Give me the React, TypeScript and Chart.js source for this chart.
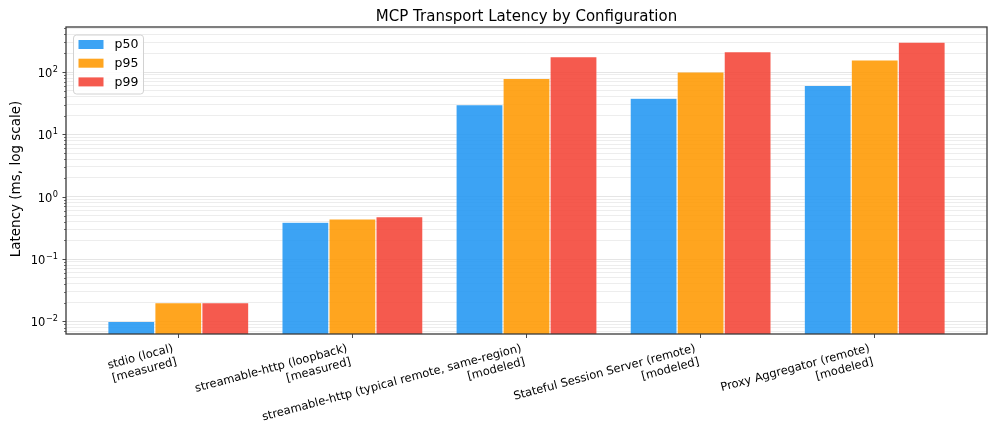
import React, { useEffect, useRef } from "react";
import { Chart, registerables } from "chart.js";

Chart.register(...registerables);

const CATEGORIES: string[][] = [
  ["stdio (local)", "[measured]"],
  ["streamable-http (loopback)", "[measured]"],
  ["streamable-http (typical remote, same-region)", "[modeled]"],
  ["Stateful Session Server (remote)", "[modeled]"],
  ["Proxy Aggregator (remote)", "[modeled]"],
];

const SERIES_NAMES = ["p50", "p95", "p99"];
const P50 = [0.01, 0.39, 30, 38, 61];
const P95 = [0.02, 0.44, 79, 100, 157];
const P99 = [0.02, 0.48, 176, 212, 302];
const SERIES_VALUES = [P50, P95, P99];
const SERIES_COLORS = [
  "rgba(33,150,243,0.88)",
  "rgba(255,152,0,0.88)",
  "rgba(244,67,54,0.88)",
];

const DECADES = [-3, -2, -1, 0, 1, 2];
const DECADE_EXPONENTS = ["−3", "−2", "−1", "0", "1", "2"];

const Y_MIN = 0.0063;
const Y_MAX = 527;
const X_MIN = -0.645;
const X_MAX = 4.645;

const TITLE = "MCP Transport Latency by Configuration";
const Y_TITLE = "Latency (ms, log scale)";
const FONT = "'DejaVu Sans', 'Liberation Sans', sans-serif";
const X_FONT_SIZE = 11.5;
const X_ROT = (15 * Math.PI) / 180;

function majorIndex(v: number): number {
  for (let i = 0; i < DECADES.length; i++) {
    const p = Math.pow(10, DECADES[i]);
    if (Math.abs(v - p) < p * 1e-6) return i;
  }
  return -1;
}

function buildLogTicks(): { value: number }[] {
  const out: { value: number }[] = [];
  for (const e of DECADES) {
    for (let m = 1; m <= 9; m++) {
      const v = Number((m * Math.pow(10, e)).toPrecision(12));
      if (v >= Y_MIN && v <= Y_MAX) out.push({ value: v });
    }
  }
  return out;
}

const decorPlugin = {
  id: "decor",
  afterDatasetsDraw(chart: any) {
    const { ctx, chartArea } = chart;
    const y = chart.scales.y;
    const x = chart.scales.x;
    ctx.save();
    ctx.strokeStyle = "#333";
    for (const t of y.ticks) {
      const py = Math.round(y.getPixelForValue(t.value)) + 0.5;
      const k = majorIndex(t.value);
      const major = k >= 0;
      const len = major ? 3.5 : 2;
      ctx.lineWidth = major ? 0.9 : 0.7;
      ctx.beginPath();
      ctx.moveTo(chartArea.left - len, py);
      ctx.lineTo(chartArea.left, py);
      ctx.stroke();
      if (major) {
        const exp = DECADE_EXPONENTS[k];
        ctx.fillStyle = "#000";
        ctx.textBaseline = "alphabetic";
        ctx.textAlign = "left";
        ctx.font = `8.2px ${FONT}`;
        const ew = ctx.measureText(exp).width;
        ctx.font = `11.5px ${FONT}`;
        const bw = ctx.measureText("10").width;
        const right = chartArea.left - 8;
        const x0 = right - ew - bw - 0.5;
        const base = py + 4.5;
        ctx.fillText("10", x0, base);
        ctx.font = `8.2px ${FONT}`;
        ctx.fillText(exp, x0 + bw + 0.5, base - 5);
      }
    }
    // x category labels: rotated 15deg, right-aligned block, matplotlib-style bbox anchoring
    ctx.font = `${X_FONT_SIZE}px ${FONT}`;
    ctx.fillStyle = "#000";
    const lh = X_FONT_SIZE * 1.2;
    CATEGORIES.forEach((lines, i) => {
      const tx = x.getPixelForValue(i);
      const H = lines.length * lh;
      const top = chartArea.bottom + 7.2;
      const bx = tx;
      const by = top + H * Math.cos(X_ROT);
      ctx.save();
      ctx.translate(bx, by);
      ctx.rotate(-X_ROT);
      ctx.textAlign = "right";
      ctx.textBaseline = "middle";
      lines.forEach((ln, j) => {
        ctx.fillText(ln, 0, -H + (j + 0.5) * lh + 0.5);
      });
      ctx.restore();
    });
    ctx.strokeStyle = "#3a3a3a";
    ctx.lineWidth = 1.3;
    ctx.strokeRect(
      chartArea.left,
      chartArea.top,
      chartArea.right - chartArea.left,
      chartArea.bottom - chartArea.top
    );
    ctx.restore();
  },
  afterDraw(chart: any) {
    const { ctx, chartArea } = chart;
    ctx.save();
    ctx.fillStyle = "#000";
    ctx.font = `15px ${FONT}`;
    ctx.textAlign = "center";
    ctx.textBaseline = "alphabetic";
    ctx.fillText(TITLE, (chartArea.left + chartArea.right) / 2, 21);
    ctx.save();
    ctx.translate(16.5, (chartArea.top + chartArea.bottom) / 2 - 1.5);
    ctx.rotate(-Math.PI / 2);
    ctx.font = `13.5px ${FONT}`;
    ctx.textBaseline = "middle";
    ctx.fillText(Y_TITLE, 0, 0);
    ctx.restore();
    const lx = chartArea.left + 7.5;
    const ly = chartArea.top + 8;
    const lw = 70;
    const lhh = 59;
    const r = 3;
    ctx.beginPath();
    ctx.moveTo(lx + r, ly);
    ctx.lineTo(lx + lw - r, ly);
    ctx.arcTo(lx + lw, ly, lx + lw, ly + r, r);
    ctx.lineTo(lx + lw, ly + lhh - r);
    ctx.arcTo(lx + lw, ly + lhh, lx + lw - r, ly + lhh, r);
    ctx.lineTo(lx + r, ly + lhh);
    ctx.arcTo(lx, ly + lhh, lx, ly + lhh - r, r);
    ctx.lineTo(lx, ly + r);
    ctx.arcTo(lx, ly, lx + r, ly, r);
    ctx.closePath();
    ctx.fillStyle = "rgba(255,255,255,0.85)";
    ctx.fill();
    ctx.strokeStyle = "#d2d2d2";
    ctx.lineWidth = 1;
    ctx.stroke();
    chart.data.datasets.forEach((ds: any, i: number) => {
      const cy = ly + 9.5 + i * 18.7;
      ctx.fillStyle = ds.backgroundColor;
      ctx.fillRect(lx + 5, cy - 4.5, 25, 9);
      ctx.fillStyle = "#000";
      ctx.font = `12.5px ${FONT}`;
      ctx.textAlign = "left";
      ctx.textBaseline = "middle";
      ctx.fillText(ds.label, lx + 41, cy + 0.5);
    });
    ctx.restore();
  },
};

export default function App() {
  const canvasRef = useRef<HTMLCanvasElement | null>(null);

  useEffect(() => {
    document.body.style.margin = "0";
    const canvas = canvasRef.current;
    if (!canvas) return;
    const chart = new Chart(canvas, {
      type: "bar",
      data: {
        datasets: SERIES_VALUES.map((vals, si) => ({
          label: SERIES_NAMES[si],
          data: vals.map((v, i) => ({ x: i, y: v })),
          backgroundColor: SERIES_COLORS[si],
          borderColor: "rgba(255,255,255,0.35)",
          borderWidth: 0.6,
          categoryPercentage: 0.81,
          barPercentage: 1.0,
        })),
      },
      options: {
        animation: false,
        responsive: false,
        maintainAspectRatio: false,
        devicePixelRatio: 1,
        layout: { padding: { top: 27, right: 9, left: 0, bottom: 0 } },
        plugins: {
          legend: { display: false },
          title: { display: false },
          tooltip: { enabled: false },
        },
        scales: {
          x: {
            type: "linear",
            offset: false,
            min: X_MIN,
            max: X_MAX,
            afterBuildTicks: (s: any) => {
              s.ticks = CATEGORIES.map((_, i) => ({ value: i }));
            },
            afterFit: (s: any) => {
              s.height = 111;
            },
            ticks: {
              autoSkip: false,
              maxRotation: 0,
              minRotation: 0,
              padding: 2,
              color: "#000",
              font: { family: FONT, size: X_FONT_SIZE },
              callback: () => "",
            },
            grid: {
              offset: false,
              drawOnChartArea: false,
              drawTicks: true,
              tickLength: 4,
              tickColor: "#333",
              tickWidth: 0.9,
            },
            border: { display: false },
          },
          y: {
            type: "logarithmic",
            min: Y_MIN,
            max: Y_MAX,
            afterBuildTicks: (s: any) => {
              s.ticks = buildLogTicks();
            },
            afterFit: (s: any) => {
              s.width = 66;
            },
            ticks: {
              autoSkip: false,
              padding: 4,
              color: "#000",
              font: { family: FONT, size: 11.5 },
              callback: () => "",
            },
            grid: {
              drawTicks: true,
              tickLength: 3.5,
              tickColor: "rgba(0,0,0,0)",
              color: (c: any) =>
                c.tick && majorIndex(c.tick.value) >= 0
                  ? "rgba(0,0,0,0.1)"
                  : "rgba(0,0,0,0.07)",
              lineWidth: 1,
            },
            border: { display: false },
          },
        },
      },
      plugins: [decorPlugin],
    } as any);
    return () => chart.destroy();
  }, []);

  return (
    <div style={{ width: 996, height: 445, background: "#fff" }}>
      <canvas ref={canvasRef} width={996} height={445} style={{ display: "block" }} />
    </div>
  );
}
